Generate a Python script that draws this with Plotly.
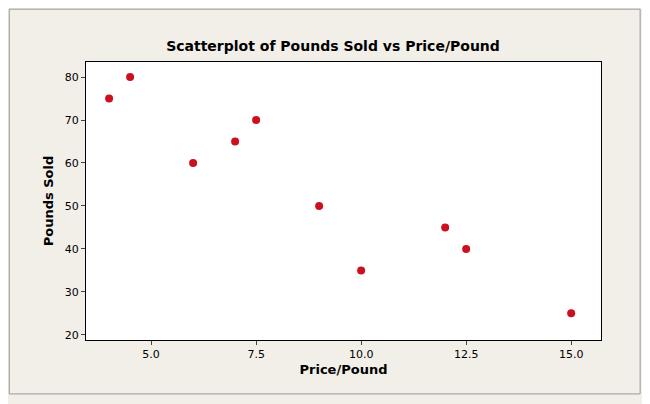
import plotly.graph_objects as go

price = [4.0, 4.5, 6.0, 7.0, 7.5, 9.0, 10.0, 12.0, 12.5, 15.0]
pounds = [75, 80, 60, 65, 70, 50, 35, 45, 40, 25]
x_ticks = [5.0, 7.5, 10.0, 12.5, 15.0]
y_ticks = [20, 30, 40, 50, 60, 70, 80]

fig = go.Figure(go.Scatter(
    x=price, y=pounds, mode="markers",
    marker=dict(color="#cc1020", size=8),
))

fig.update_layout(
    width=650, height=404,
    margin=dict(l=78, r=57, t=54, b=72),
    paper_bgcolor="#f2efe9", plot_bgcolor="white",
    font=dict(family="Verdana, DejaVu Sans", size=11, color="black"),
    title=dict(text="<b>Scatterplot of Pounds Sold vs Price/Pound</b>",
               x=0.5, xanchor="center", y=0.905, yanchor="middle",
               font=dict(size=14)),
    showlegend=False,
    shapes=[dict(type="rect", xref="paper", yref="paper",
                 x0=-0.149, x1=1.076, y0=-0.194, y1=1.19,
                 line=dict(color="#999999", width=1))],
)
fig.update_xaxes(range=[3.45, 15.71], tickvals=x_ticks,
                 ticktext=[f"{v:.1f}" for v in x_ticks],
                 showgrid=False, zeroline=False, showline=True, mirror=True,
                 linecolor="black", ticks="outside", ticklen=4,
                 title=dict(text="<b>Price/Pound</b>", standoff=4))
fig.update_yaxes(range=[18.8, 83.5], tickvals=y_ticks,
                 showgrid=False, zeroline=False, showline=True, mirror=True,
                 linecolor="black", ticks="outside", ticklen=4,
                 title=dict(text="<b>Pounds Sold</b>", standoff=8))

fig.write_html("out.html")
